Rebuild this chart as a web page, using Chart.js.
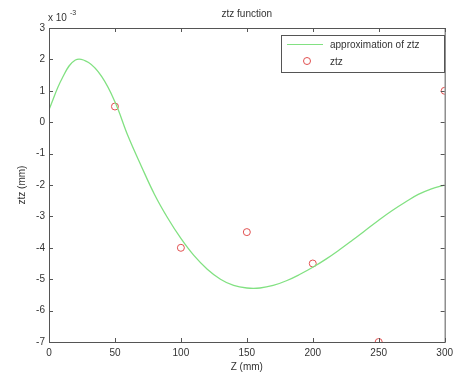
<!DOCTYPE html>
<html>
<head>
<meta charset="utf-8">
<script src="https://cdn.jsdelivr.net/npm/chart.js@4.4.0/dist/chart.umd.min.js"></script>
<style>
  body { margin: 0; background: #fff; }
  #wrap { width: 458px; height: 376px; }
</style>
</head>
<body>
<div id="wrap"><canvas id="c" width="458" height="376"></canvas></div>
<script>
// values in units of 1e-3 mm
const curveZ = [0, 10, 20, 30, 40, 50, 60, 70, 80, 90, 100, 110, 120, 130, 140, 150, 160, 170, 180, 190, 200, 210, 220, 230, 240, 250, 260, 270, 280, 290, 300];
const curveZtz = [0.4, 1.4, 1.98, 1.9, 1.45, 0.65, -0.45, -1.4, -2.3, -3.05, -3.7, -4.25, -4.68, -5.0, -5.2, -5.28, -5.28, -5.2, -5.05, -4.85, -4.62, -4.36, -4.07, -3.76, -3.44, -3.12, -2.82, -2.55, -2.3, -2.12, -2.0];
const pointZ = [50, 100, 150, 200, 250, 300];
const pointZtz = [0.5, -4, -3.5, -4.5, -7, 1];
const xTicks = [0, 50, 100, 150, 200, 250, 300];
const yTicks = [-7, -6, -5, -4, -3, -2, -1, 0, 1, 2, 3];

const green = 'rgb(130,225,130)';
const red = 'rgb(225,80,80)';
const axisCol = '#555';
const fnt = '"Liberation Sans", Arial, sans-serif';

// inward ticks, box, title, exponent and legend (matlab look)
const matlabBits = {
  id: 'matlabBits',
  afterDraw(chart) {
    const ctx = chart.ctx;
    const a = chart.chartArea;
    const xs = chart.scales.x, ys = chart.scales.y;
    ctx.save();
    ctx.strokeStyle = axisCol;
    ctx.lineWidth = 1;
    ctx.strokeRect(a.left + 0.5, a.top + 0.5, a.right - a.left, a.bottom - a.top);
    ctx.beginPath();
    xTicks.forEach(v => {
      const px = Math.round(xs.getPixelForValue(v)) + 0.5;
      ctx.moveTo(px, a.bottom); ctx.lineTo(px, a.bottom - 4);
      ctx.moveTo(px, a.top); ctx.lineTo(px, a.top + 4);
    });
    yTicks.forEach(v => {
      const py = Math.round(ys.getPixelForValue(v)) + 0.5;
      ctx.moveTo(a.left, py); ctx.lineTo(a.left + 4, py);
      ctx.moveTo(a.right, py); ctx.lineTo(a.right - 4, py);
    });
    ctx.stroke();

    ctx.fillStyle = '#333';
    ctx.font = '10px ' + fnt;
    ctx.textAlign = 'center';
    ctx.textBaseline = 'middle';
    ctx.fillText('ztz function', (a.left + a.right) / 2, 14);

    // x 10^-3
    ctx.textAlign = 'left';
    ctx.fillText('x 10', 48, 18);
    ctx.font = '7px ' + fnt;
    ctx.fillText('-3', 70, 13);

    // legend
    const lx = 281, ly = 35, lw = 163, lh = 37;
    ctx.fillStyle = '#fff';
    ctx.fillRect(lx, ly, lw, lh);
    ctx.strokeStyle = axisCol;
    ctx.strokeRect(lx + 0.5, ly + 0.5, lw, lh);
    ctx.strokeStyle = green;
    ctx.beginPath();
    ctx.moveTo(287, 44.5); ctx.lineTo(323, 44.5);
    ctx.stroke();
    ctx.strokeStyle = red;
    ctx.beginPath();
    ctx.arc(307, 61, 3.5, 0, Math.PI * 2);
    ctx.stroke();
    ctx.fillStyle = '#333';
    ctx.font = '10px ' + fnt;
    ctx.fillText('approximation of ztz', 330, 45);
    ctx.fillText('ztz', 330, 62);
    ctx.restore();
  }
};

const toXY = (xs, ys) => xs.map((x, i) => ({x: x, y: ys[i]}));

new Chart(document.getElementById('c'), {
  type: 'scatter',
  data: {
    datasets: [
      {
        label: 'approximation of ztz',
        data: toXY(curveZ, curveZtz),
        showLine: true,
        borderColor: green,
        borderWidth: 1.3,
        pointRadius: 0,
        tension: 0.4
      },
      {
        label: 'ztz',
        data: toXY(pointZ, pointZtz),
        showLine: false,
        pointStyle: 'circle',
        pointRadius: 3.5,
        borderColor: red,
        borderWidth: 1,
        backgroundColor: 'rgba(0,0,0,0)'
      }
    ]
  },
  options: {
    responsive: false,
    animation: false,
    devicePixelRatio: 1,
    layout: { padding: { left: 0, right: 10, top: 28, bottom: 0 } },
    plugins: { legend: { display: false }, tooltip: { enabled: false } },
    scales: {
      x: {
        type: 'linear', min: 0, max: 300,
        afterFit: s => { s.height = 34; },
        afterBuildTicks: s => { s.ticks = xTicks.map(v => ({value: v})); },
        grid: { display: false, drawTicks: false },
        border: { display: false },
        ticks: { color: '#333', font: { size: 10, family: fnt }, padding: 5, maxRotation: 0 },
        title: { display: true, text: 'Z (mm)', color: '#333', font: { size: 10, family: fnt }, padding: { top: 0, bottom: 3 } }
      },
      y: {
        min: -7, max: 3,
        afterFit: s => { s.width = 49; },
        afterBuildTicks: s => { s.ticks = yTicks.map(v => ({value: v})); },
        grid: { display: false, drawTicks: false },
        border: { display: false },
        ticks: { color: '#333', font: { size: 10, family: fnt }, padding: 4 },
        title: { display: true, text: 'ztz (mm)', color: '#333', font: { size: 10, family: fnt }, padding: { top: 16, bottom: 0 } }
      }
    }
  },
  plugins: [matlabBits]
});
</script>
</body>
</html>
